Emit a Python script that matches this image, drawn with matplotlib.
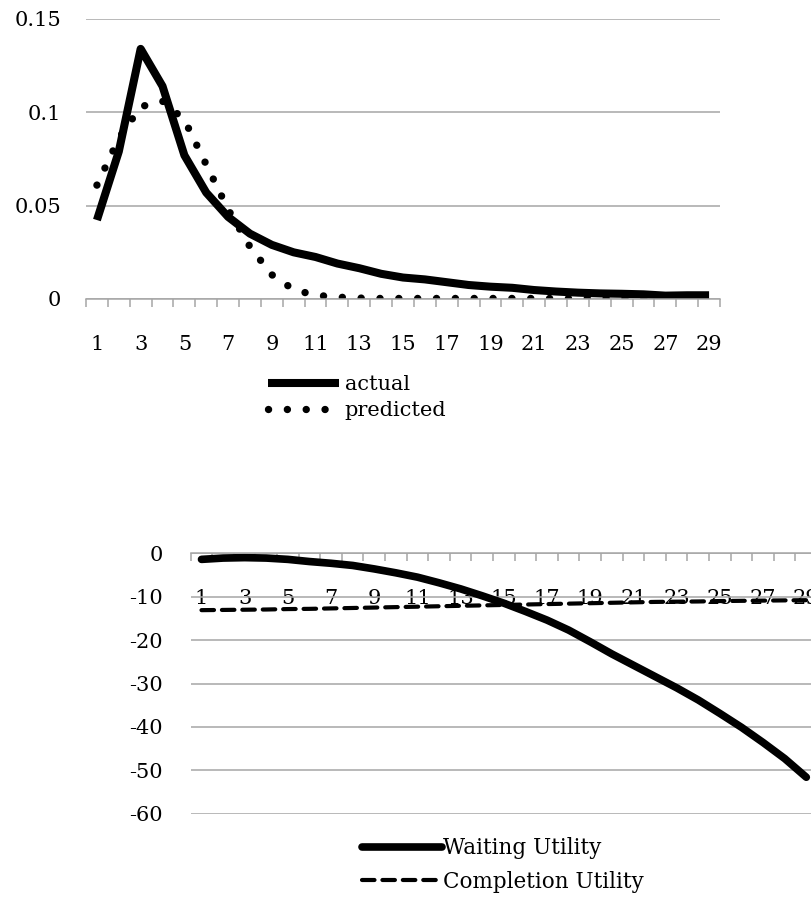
import numpy as np
import matplotlib
matplotlib.use("Agg")
import matplotlib.pyplot as plt
from matplotlib.ticker import FixedLocator

# periods shown on both x axes
periods = list(range(1, 30))
tick_labels = [str(p) for p in periods if p % 2 == 1]

# top panel: share of observations per period
actual = [0.0423, 0.079, 0.134, 0.114, 0.077, 0.057, 0.044, 0.035, 0.029, 0.025,
          0.0225, 0.019, 0.0165, 0.0135, 0.0115, 0.0105, 0.009, 0.0075, 0.0066, 0.006,
          0.0048, 0.004, 0.0034, 0.003, 0.0028, 0.0025, 0.0018, 0.002, 0.002]
predicted = [0.061, 0.086, 0.103, 0.106, 0.096, 0.072, 0.048, 0.028, 0.013, 0.005,
             0.002, 0.001, 0.0005, 0.0003, 0.0003, 0.0003, 0.0003, 0.0003, 0.0003, 0.0003,
             0.0003, 0.0003, 0.0003, 0.0003, 0.0003, 0.0003, 0.0003, 0.0003, 0.0003]
top_yticks = [0, 0.05, 0.1, 0.15]
top_ylabels = ["0", "0.05", "0.1", "0.15"]

# bottom panel: utilities per period
waiting_utility = [-1.4, -1.1, -1.0, -1.1, -1.4, -1.9, -2.3, -2.8, -3.6, -4.5,
                   -5.5, -6.8, -8.2, -9.8, -11.5, -13.4, -15.4, -17.7, -20.4, -23.2,
                   -25.8, -28.4, -31.0, -33.8, -36.9, -40.1, -43.6, -47.3, -51.6]
completion_utility = [-13.1, -13.05, -13.0, -12.95, -12.85, -12.8, -12.7, -12.6, -12.5, -12.4,
                      -12.3, -12.2, -12.1, -12.0, -11.9, -11.8, -11.7, -11.6, -11.5, -11.4,
                      -11.3, -11.2, -11.15, -11.1, -11.0, -10.95, -10.9, -10.85, -10.8]
bottom_yticks = [0, -10, -20, -30, -40, -50, -60]

plt.rcParams["font.family"] = ["DejaVu Serif"]
GRID = "#a6a6a6"
FS = 15


def style_axis(ax, yticks, ylabels, ypad):
    ax.set_xlim(0.5, 29.5)
    ax.set_yticks(yticks)
    ax.set_yticklabels(ylabels)
    ax.yaxis.grid(True, color=GRID, linewidth=1.1)
    ax.set_axisbelow(True)
    for side in ["top", "right", "left"]:
        ax.spines[side].set_visible(False)
    ax.spines["bottom"].set_color(GRID)
    ax.spines["bottom"].set_linewidth(1.1)
    ax.tick_params(axis="y", length=0, pad=ypad, labelsize=FS)
    # labels on odd periods, tick marks on category boundaries
    ax.set_xticks([p for p in periods if p % 2 == 1])
    ax.set_xticklabels(tick_labels)
    ax.xaxis.set_minor_locator(FixedLocator(np.arange(0.5, 30, 1.0)))
    ax.tick_params(axis="x", which="major", length=0, pad=26, labelsize=FS)
    ax.tick_params(axis="x", which="minor", length=6, width=1.1, color=GRID, direction="out")


fig = plt.figure(figsize=(8.12, 9.01), dpi=100)

# top chart
ax1 = fig.add_axes([86 / 812, 1 - 299 / 901, 634 / 812, 280 / 901])
ax1.plot(periods, actual, color="black", linewidth=5.8, solid_joinstyle="round",
         solid_capstyle="butt", label="actual")
ax1.plot(periods, predicted, color="black", linewidth=5.3, linestyle=(0, (0.01, 2.55)),
         dash_capstyle="round", label="predicted")
ax1.set_ylim(0, 0.15)
style_axis(ax1, top_yticks, top_ylabels, 18)
ax1.legend(loc="center left", bbox_to_anchor=(268 / 812, 1 - 397.5 / 901),
           bbox_transform=fig.transFigure, frameon=False, fontsize=FS,
           borderpad=0, borderaxespad=0, handlelength=3.4, handletextpad=0.28,
           labelspacing=0.32)

# bottom chart, right edge runs past the figure like the original
ax2 = fig.add_axes([190.7 / 812, 1 - 813.7 / 901, 626.4 / 812, 260.4 / 901])
ax2.plot(periods, waiting_utility, color="black", linewidth=5.5, solid_joinstyle="round",
         solid_capstyle="round", label="Waiting Utility")
ax2.plot(periods, completion_utility, color="black", linewidth=3.0, linestyle=(0, (3.0, 1.9)),
         dash_capstyle="round", label="Completion Utility")
ax2.set_ylim(-60, 0)
ax2.spines["bottom"].set_position(("data", 0))
style_axis(ax2, bottom_yticks, [str(v) for v in bottom_yticks], 20)
ax2.legend(loc="center left", bbox_to_anchor=(362 / 812, 1 - 865 / 901),
           bbox_transform=fig.transFigure, frameon=False, fontsize=15.5,
           borderpad=0, borderaxespad=0, handlelength=3.7, handletextpad=0.05,
           labelspacing=0.55)

fig.savefig("out.png", dpi=100)
